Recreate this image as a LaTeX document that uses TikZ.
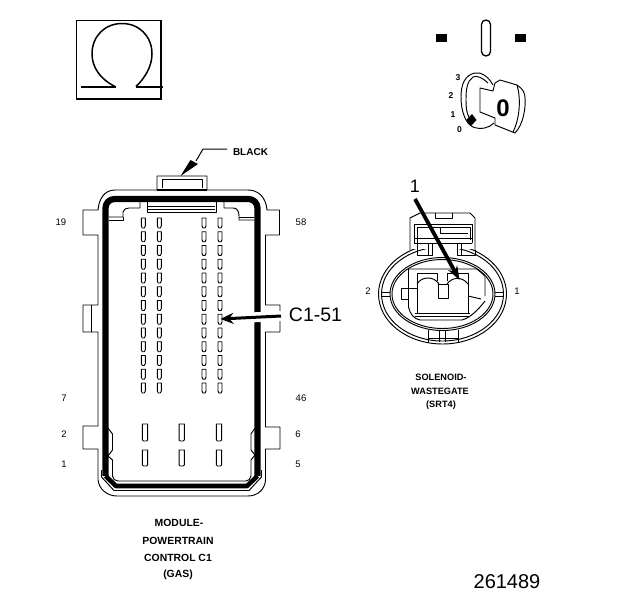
\documentclass[tikz,border=0pt]{standalone}
\usepackage{fontspec}
\setmainfont{Liberation Sans}
\usetikzlibrary{arrows.meta}
\tikzset{
 thinln/.style={line width=0.95pt,line join=round},
 thickln/.style={line width=6.2pt,line join=round},
 pin/.style={thinln},
 smalllbl/.style={font=\fontsize{9.5}{10}\selectfont,inner sep=0pt},
 keylbl/.style={font=\fontsize{8.5}{9}\selectfont\bfseries,inner sep=0pt},
 caplbl/.style={font=\fontsize{10.4}{11}\selectfont\bfseries,inner sep=0pt},
 sollbl/.style={font=\fontsize{9.2}{10}\selectfont\bfseries,inner sep=0pt},
}
\newcommand{\pinA}[2]{\draw[pin] (#1-2,#2) -- (#1+2,#2) -- (#1+2,#2+8) -- (#1+1,#2+10) -- (#1-1,#2+10) -- (#1-2,#2+8) -- cycle;}
\newcommand{\pinB}[3]{\draw[pin] (#1-2.6,#2) -- (#1+2.6,#2) -- (#1+2.6,#3-1) -- (#1+1.4,#3) -- (#1-1.4,#3) -- (#1-2.6,#3-1) -- cycle;}
\begin{document}
\begin{tikzpicture}[x=1pt,y=-1pt]
\useasboundingbox (0,0) rectangle (624,600);
% Omega box
\draw[line width=1.6pt] (76.5,20.5) rectangle (161,99);
\draw[line width=1.5pt] (115,86.5) .. controls (100,79) and (92,67) .. (92,54) .. controls (92,36) and (105,23.5) .. (122,23.5) .. controls (139,23.5) and (152,36) .. (152,54) .. controls (152,67) and (144,79) .. (136,86.5);
\draw[line width=2.4pt] (81,87) -- (116,87);
\draw[line width=2.4pt] (136,87) -- (163,87);
% top right symbols
\fill (436,34) rectangle (447,42);
\fill (515,34) rectangle (526,42);
\draw[line width=1.3pt,rounded corners=4.5pt] (481.5,20) rectangle (490.5,56);
% key
\draw[thinln] (493,85) .. controls (488,76) and (481,72) .. (475,73) .. controls (465,75) and (461,84) .. (461,97) .. controls (461,112) and (466,124) .. (473,127) .. controls (481,130) and (489,128) .. (494,123);
\draw[thinln] (488,83) .. controls (483,78) and (477,75) .. (473,77) .. controls (467,81) and (466,90) .. (466,99) .. controls (466,106) and (466,113) .. (470,119);
\draw[thinln] (480,88) -- (493,91) -- (495,83) -- (500,80) -- (517,85) .. controls (523,89) and (525,93) .. (525,98) .. controls (526,108) and (523,125) .. (515,133) -- (495,125) -- (495,118) -- (480,112) -- cycle;
\draw[thinln] (517,85) .. controls (521,98) and (520,118) .. (513,132);
\fill (472,114) -- (476.5,120) -- (471,126) -- (466,120) -- cycle;
\node[font=\fontsize{24}{25}\selectfont\bfseries,inner sep=0pt] (keyzero) at (503,108) {0};
\node[keylbl] (k3) at (458,78) {3};
\node[keylbl] (k2) at (451,96) {2};
\node[keylbl] (k1) at (453,115) {1};
\node[keylbl] (k0) at (459.5,130) {0};
% Module outer
\draw[thinln] (115,190) -- (157,190) -- (157,176) -- (207,176) -- (207,190) -- (248,190)
 .. controls (258,190) and (266,197) .. (267,210) -- (279.5,210) -- (279.5,235) -- (265.5,235) -- (265.5,305) -- (280,305) -- (280,332) -- (265.5,332) -- (265.5,427) -- (280,427) -- (280,449) -- (265.5,449) -- (265.5,480)
 .. controls (265,489) and (258,496) .. (248,496) -- (117,496) .. controls (107,496) and (99,489) .. (98,480) -- (98,449) -- (83,449) -- (83,426) -- (98,426) -- (98,332) -- (83,332) -- (83,305) -- (98,305) -- (98,235) -- (83,235) -- (83,210) -- (98,210) .. controls (99,198) and (105,190) .. (115,190);
\draw[thinln] (162,188) -- (162,179) -- (202,179) -- (202,188);
\draw[line width=2pt] (157,189.5) -- (207,189.5);
\draw[thinln] (91,305) -- (91,332);
% thick
\draw[thickln,rounded corners=9pt] (105.5,476) -- (105.5,199) -- (257.5,199) -- (257.5,476);
\draw[line width=4.6pt,line join=round] (105.5,476) -- (116,486) -- (247,486) -- (257.5,476);
\draw[thinln] (101.5,470) -- (101.5,477) -- (114,490.5) -- (249,490.5) -- (261.5,477) -- (261.5,470);
% inner top left
\draw[thinln] (109,217) -- (123,217) -- (123,212) .. controls (124,209) and (126,208) .. (129,208) -- (140,208) -- (140,202);
\draw[thinln] (109,220) -- (123,220) -- (123,217);
\draw[thinln] (147,202) -- (147,212.5) -- (216,212.5) -- (216,202);
\draw[thinln] (148,206) -- (215,206);
\draw[thinln] (148,209) -- (215,209);
\draw[thinln] (224,202) -- (224,208) -- (233,208) .. controls (237,208) and (239,211) .. (239,216) -- (239,220) -- (254,220);
\draw[thinln] (239,217) -- (254,217);
% inner bottom
\draw[thinln] (108,428) -- (112.5,434) -- (112.5,450) -- (108,456) -- (112.5,460) -- (112.5,476) .. controls (113,479) and (115,481) .. (118,481) -- (246,481) .. controls (249,481) and (250,479) .. (251,476) -- (251,460) -- (255,455) -- (251,450) -- (251,434) -- (255,428);
% pins
\foreach \cx in {143.3,159.3,204,220}{
 \foreach \r in {0,...,12}{ \pinA{\cx}{218+13.75*\r} }
}
\foreach \cx in {145,181.7,219}{
 \pinB{\cx}{424}{441}
 \pinB{\cx}{450}{466}
}
% labels around module
\node[smalllbl] (n19) at (61,222) {19};
\node[smalllbl] (n58) at (301,222) {58};
\node[smalllbl] (n7) at (64,398) {7};
\node[smalllbl] (n46) at (301,398) {46};
\node[smalllbl] (n2) at (64,434) {2};
\node[smalllbl] (n6) at (298,434) {6};
\node[smalllbl] (n1) at (64,464) {1};
\node[smalllbl] (n5) at (298,464) {5};
\node[font=\fontsize{10}{11}\selectfont\bfseries,inner sep=0pt] (black) at (250.5,152) {BLACK};
\coordinate (blackbend) at (203,149);
\coordinate (blackknee) at (196,161);
\coordinate (blackend) at (227,149);
\coordinate (blacktip) at (180.5,176);
\draw[line width=1pt] (blackend) -- (blackbend) -- (blackknee);
\fill (blacktip) -- (190.5,160) -- (198,164) -- cycle;
\node[inner sep=0pt,font=\fontsize{19.5}{20}\selectfont] (c151) at (315.5,315) {C1-51};
\coordinate (c1tip) at (220.5,319);
\coordinate (c1tail) at (281,316);
\draw[white,line width=10pt] (250,317.5) -- (c1tail);
\draw[line width=3pt,-{Stealth[length=13pt,width=11pt]}] (c1tail) -- (c1tip);
\node[caplbl] (modname) at (179,523) {MODULE-};
\node[caplbl] (modname2) at (178,541) {POWERTRAIN};
\node[caplbl] (modname3) at (178,558) {CONTROL C1};
\node[caplbl] (modname4) at (178,575) {(GAS)};
% solenoid rings
\draw[thinln] (442.5,294) ellipse (64 and 50);
\draw[thinln] (442.5,294) ellipse (61 and 47);
\draw[thinln] (442.5,294) ellipse (52.5 and 36.5);
\draw[thinln] (442.5,294) ellipse (50.5 and 34.5);
\foreach \yy in {292,296}{
 \draw[thinln] (382,\yy) -- (390,\yy);
 \draw[thinln] (495,\yy) -- (503,\yy);
}
\draw[thinln] (428,330) -- (428,343) (439,331) -- (439,342) (445,331) -- (445,342) (458,330) -- (458,343);
\draw[thinln] (428,338) -- (458,338);
% lock
\fill[white] (410,213) rectangle (475,249);
\draw[thinln] (410,250) -- (410,218) -- (420,213) -- (470,213) -- (475,218) -- (475,250);
\draw[thinln] (414,243) -- (414,224) -- (472,224) -- (472,243);
\draw[thinln] (417,243) -- (417,227) -- (470,227) -- (470,240);
\draw[thinln] (435,213) -- (435,218) -- (452,218) -- (452,213);
\draw[thinln] (440,227) -- (440,233) -- (468,233);
\draw[thinln] (414,238) -- (472,238);
\draw[thinln] (414,243) -- (472,243);
\draw[thinln] (417,243) -- (417,255) -- (432,255) -- (432,243);
\draw[thinln] (428,243) -- (428,255);
\draw[thinln] (457,243) -- (457,255) -- (475,255) -- (475,250);
\draw[thinln] (461,243) -- (461,255);
% interior
\draw[thinln] (408.5,307) -- (408.5,269) -- (477,269) -- (485,276) -- (485,296);
\draw[thinln] (408.5,307) .. controls (410,314) and (414,319) .. (420,320) -- (462,320) .. controls (470,318) and (478,310) .. (485,301);
\draw[thinln] (417,313) -- (417,273) -- (437,273) -- (437,281);
\draw[thinln] (447,281) -- (447,273) -- (468,273) -- (468,313);
\draw[thinln] (417,284) .. controls (421,277) and (433,275) .. (439,284);
\draw[thinln] (447,284) .. controls (452,277) and (462,276) .. (468,284);
\draw[thinln] (415,313) -- (470,313);
\draw[thinln] (415,316.5) -- (470,316.5);
\draw[thinln] (417,288) -- (401,288) -- (401,299) -- (408.5,299);
\draw[thinln] (438,284) rectangle (448,298);
\draw[thinln] (468,296) -- (481,299);
\node[inner sep=0pt,font=\fontsize{18}{19}\selectfont] (sol1) at (415,186) {1};
\coordinate (soltail) at (415,199);
\coordinate (soltip) at (459.5,280);
\draw[line width=3.8pt,-{Stealth[length=14pt,width=10pt]}] (soltail) -- (soltip);
\node[smalllbl] (s2) at (368,291) {2};
\node[smalllbl] (s1) at (517,291) {1};
\node[sollbl] (solname) at (441,377) {SOLENOID-};
\node[sollbl] (solname2) at (440,391) {WASTEGATE};
\node[sollbl] (solname3) at (441,405.5) {(SRT4)};
\node[inner sep=0pt,font=\fontsize{20}{21}\selectfont] (code) at (507,582) {261489};
\end{tikzpicture}
\end{document}
